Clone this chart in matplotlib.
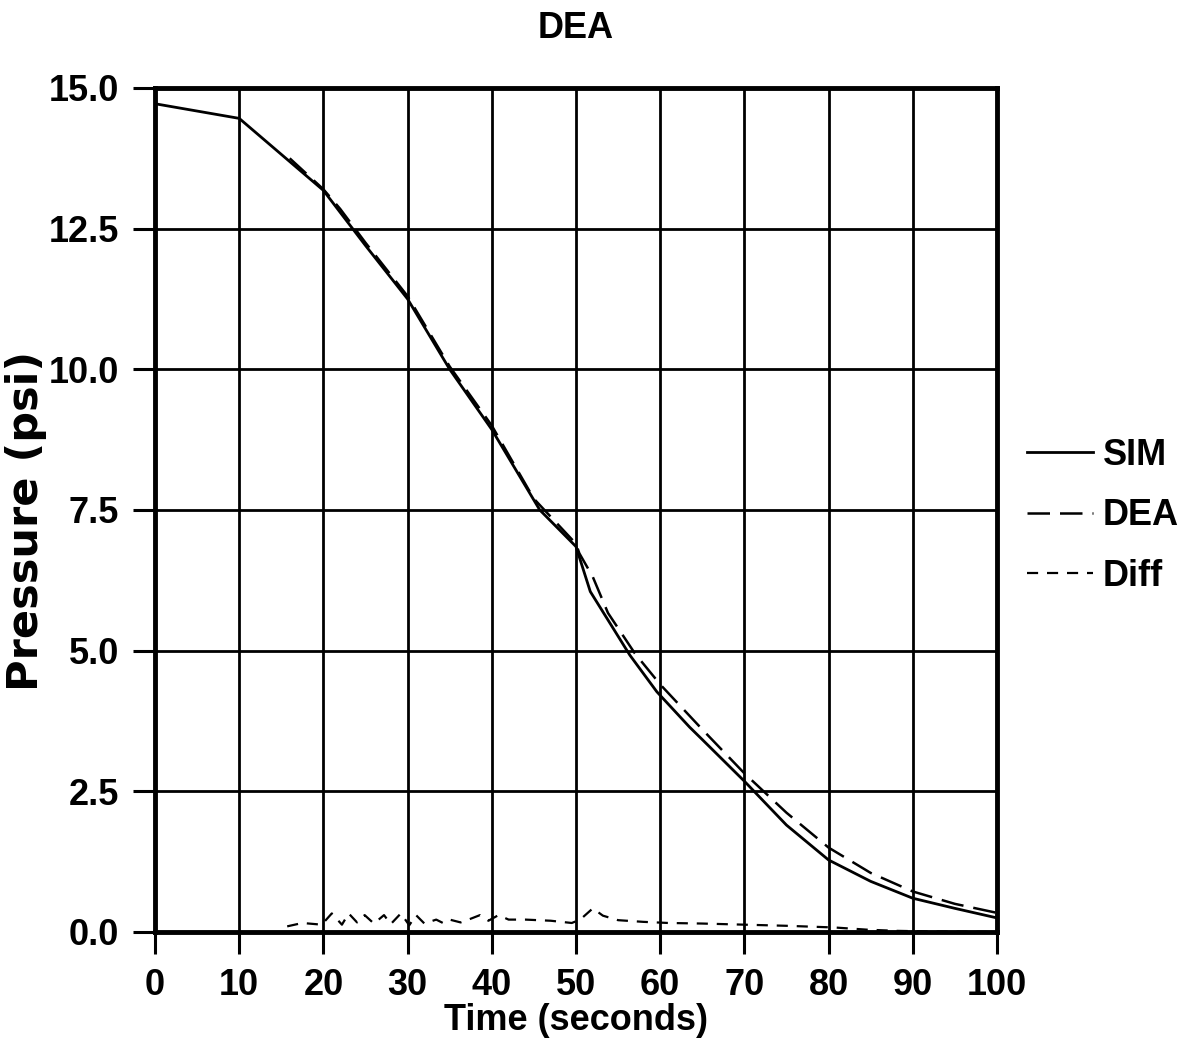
import numpy as np
import matplotlib
matplotlib.use("Agg")
import matplotlib.pyplot as plt

plt.rcParams['font.family'] = ['Liberation Sans', 'DejaVu Sans']
plt.rcParams['font.weight'] = 'bold'

# values
sim_t = [0, 10, 20, 25, 30, 35, 40, 45.7, 50, 51.7, 56.4, 59.6, 63.5, 65, 70, 75, 80, 85, 90, 95, 100]
sim_p = [14.72, 14.46, 13.18, 12.2, 11.25, 10.0, 8.93, 7.5, 6.85, 6.05, 4.92, 4.27, 3.64, 3.42, 2.68, 1.9, 1.28, 0.9, 0.6, 0.42, 0.25]

dea_t = [16, 20, 22, 25, 30, 35, 40, 45, 50, 50.4, 52, 53.8, 57, 60, 65, 70, 75, 80, 85, 90, 95, 100]
dea_p = [13.75, 13.2, 12.85, 12.25, 11.3, 10.05, 9.0, 7.7, 6.9, 6.73, 6.31, 5.67, 4.95, 4.4, 3.6, 2.82, 2.12, 1.5, 1.05, 0.72, 0.5, 0.34]

diff_t = [15.7, 17.5, 19.8, 21.0, 22.2, 23.0, 24.0, 24.9, 26.0, 27.2, 28.0, 29.2, 30.2, 31.0,
          32.0, 33.4, 34.2, 35.0, 36.3, 37.4, 38.6, 39.6, 40.8, 42.0, 44.0, 47.0, 49.5, 50.5,
          52.0, 53.2, 55.0, 58.0, 61.0, 65.0, 70.0, 75.0, 80.7, 84.7, 88.2, 92.0, 100.0]
diff_p = [0.10, 0.16, 0.13, 0.33, 0.13, 0.33, 0.17, 0.30, 0.15, 0.30, 0.14, 0.33, 0.12, 0.30,
          0.15, 0.22, 0.16, 0.22, 0.17, 0.23, 0.30, 0.20, 0.30, 0.22, 0.22, 0.20, 0.16, 0.22,
          0.42, 0.29, 0.21, 0.18, 0.16, 0.15, 0.13, 0.11, 0.08, 0.04, 0.02, 0.01, 0.0]

x_ticks = np.arange(0, 101, 10)
y_ticks = [0.0, 2.5, 5.0, 7.5, 10.0, 12.5, 15.0]

fig = plt.figure(figsize=(11.86, 10.55), dpi=100)
ax = fig.add_axes([0.1307, 0.1166, 0.7099, 0.8000])

ax.plot(sim_t, sim_p, color='black', lw=2.0, label='SIM')
ax.plot(dea_t, dea_p, color='black', lw=1.8, dashes=(9, 4), label='DEA')
ax.plot(diff_t, diff_p, color='black', lw=1.6, dashes=(5, 4), label='Diff')

ax.set_xlim(0, 100)
ax.set_ylim(0, 15)
ax.set_xticks(x_ticks)
ax.set_yticks(y_ticks)
ax.set_yticklabels([f'{v:.1f}' for v in y_ticks])
ax.grid(True, color='black', lw=2.0)
ax.tick_params(direction='out', length=16, width=2.2, labelsize=26)
ax.tick_params(axis='x', pad=10)
ax.tick_params(axis='y', pad=10)
for s in ax.spines.values():
    s.set_linewidth(3.5)

ax.set_title('DEA', fontsize=26, fontweight='bold', pad=36)
ax.set_xlabel('Time (seconds)', fontsize=26, fontweight='bold', labelpad=0)
ax.set_ylabel('Pressure (psi)', fontsize=31, fontweight='bold',
              family=['DejaVu Sans'])
ax.yaxis.set_label_coords(-0.128, 0.487)

ax.legend(loc='center left', bbox_to_anchor=(1.0356, 0.493), frameon=False,
          borderpad=0, borderaxespad=0, fontsize=26, handlelength=1.83,
          handletextpad=0.28, labelspacing=0.7)

fig.savefig('out.png', dpi=100)
